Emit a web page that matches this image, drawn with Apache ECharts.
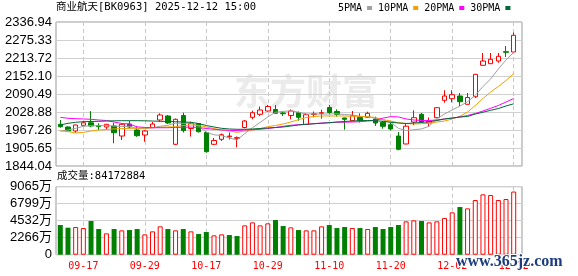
<!DOCTYPE html>
<html><head><meta charset="utf-8">
<script src="https://cdn.jsdelivr.net/npm/echarts@6/dist/echarts.min.js"></script>
<style>html,body{margin:0;padding:0;background:#fff}#c{width:578px;height:276px}</style>
</head><body><div id="c"></div>
<script>
const chartTitle = '商业航天[BK0963] 2025-12-12 15:00';
const volTitle = '成交量:84172884';
const dates = ['09-12','09-15','09-16','09-17','09-18','09-19','09-22','09-23','09-24','09-25','09-26','09-29','09-30','10-09','10-10','10-13','10-14','10-15','10-16','10-17','10-20','10-21','10-22','10-23','10-24','10-27','10-28','10-29','10-30','10-31','11-03','11-04','11-05','11-06','11-07','11-10','11-11','11-12','11-13','11-14','11-17','11-18','11-19','11-20','11-21','11-24','11-25','11-26','11-27','11-28','12-01','12-02','12-03','12-04','12-05','12-08','12-09','12-10','12-11','12-12'];
const xTickLabels = ['09-17','09-29','10-17','10-29','11-10','11-20','12-02','12-12'];
const opens  = [1986.8,1977.5,1964,1983.4,1992,1982,1977.5,1981,1946.7,1987.8,1967.3,1950.2,1975.8,2001.5,2015.2,1918.3,2016.9,1972.4,1989.5,1958.7,1918.3,1935.4,1944.3,1938.9,1975.8,2010.7,2021,2032.3,2037.4,2025.5,2016.9,2027.2,1986.1,2020.3,2023.7,2044.3,2030.6,2008.4,1999.1,2010.1,2010.7,2004.9,1993.6,1985.4,1946.7,1919.4,1994.6,2021,1991.2,2009.4,2068.9,2074.4,2083.6,2055.2,2081.2,2188.7,2194.2,2203.4,2235.3,2234.3];
const closes = [1978.6,1964,1984.4,1992,1981,1978.7,1986.7,1958,1986.7,1977.5,1947.7,1964,1987.8,2018.6,1991.2,2003.9,1965.6,1989.5,1961.4,1893,1931.3,1951.2,1946.5,1941,1998.1,2026.5,2035.7,2047.7,2024.4,2023.1,2032.3,2010.7,2019.6,2022.7,2026.5,2027.2,2021,2003.9,2016.2,2000.5,2024.4,1991.2,1979.9,1970.7,1901.2,1980.3,2009.4,1994.6,1996.4,2043.6,2083.6,2088.1,2064.1,2078.5,2157.9,2203.4,2209.3,2219.5,2233.2,2291.4];
const lows   = [1975,1961,1958,1980,1977,1967,1969.7,1921.7,1933,1973,1944,1927,1974,1995.7,1987.8,1916,1958.7,1945,1958.7,1889.6,1916,1929.6,1934.7,1908,1973,2003.9,2015.2,2030.6,2023.7,2015.2,2003.9,1999.1,1984.4,2010.7,2006,2022,2012.8,1968.4,1998.1,1993,2010.1,1981,1971.7,1965.6,1897.8,1918.3,1983.4,1991.2,1979.2,2008.4,2060.7,2062,2049.4,2054.5,2076.8,2188,2193.2,2197.6,2217.1,2234.3];
const highs  = [2001.5,1980,1986,1998,2032,1990,1988,1992,1990,1999,1981,1967,1994.6,2024.4,2018.6,2006.6,2026.5,1995.7,1991,1961.4,1939.9,1955.3,1958.7,1945,2001.5,2033.3,2047.7,2052.8,2052.8,2032.3,2038,2030.6,2024.4,2030.6,2036.7,2052.8,2038,2009.4,2032.3,2024.4,2029.9,2012.8,1998,1994.6,1960.4,1989.5,2034.7,2025.5,2010.1,2046,2103.2,2103.2,2093.9,2093.9,2159,2230.8,2230.8,2230.8,2254.8,2301];
const ma5  = [1964,1967,1973,1980,1982,1982,1982,1981,1979,1980,1973,1972,1975,1980,1983,1991,1990,1991,1980,1960,1951,1948,1940,1933,1955,1975,1993,2012,2028,2031,2033,2028,2022,2022,2022,2022,2023,2020,2019,2014,2013,2007,2002,1993,1973,1965,1968,1971,1980,2006,2022,2036,2049,2064,2086,2116,2142,2176,2207,2233];
const ma10 = [1964,1962,1957,1959,1964,1967,1969,1971,1972,1973,1973,1974,1975,1976.5,1977.5,1978.6,1982.7,1984.4,1983,1978,1972,1967.3,1964,1959.4,1964,1967,1971.7,1978.6,1982.7,1988,1994.6,2002.5,2010,2013.5,2015.2,2015.2,2015.2,2015.2,2014,2013.5,2012.8,2010,2003,1998,1992.3,1989.5,1987.8,1989,1990.2,1994.6,1998,2005,2014,2028.9,2051,2075,2097.3,2116,2136.7,2160];
const ma20 = [2010.7,2007.3,2006,2005,2004,2001.5,1999.8,1994.6,1989.5,1987.8,1978,1976,1975,1975,1975,1976,1976.5,1977,1975.8,1972.4,1969.7,1967.3,1966.2,1965.6,1967.3,1968.3,1969.7,1972.4,1975.8,1979.9,1983.4,1985.4,1986.7,1988.8,1991.2,1992.3,1993.6,1994,1994.6,1995.7,1998,2000.4,2008,2013,2012,2005,2001.5,1999.8,1999.8,2001.5,2005,2008.4,2011.8,2017,2023.7,2032.3,2041.6,2051.1,2063,2075];
const ma30 = [1984.4,1990.2,1993.6,1995.7,1996.4,1997,1998,1998.7,1999.1,1999.1,1999.1,1998.7,1998,1997,1996.4,1995.7,1994.6,1993.6,1989.5,1982.7,1977.5,1973,1970.7,1969.7,1969.7,1970.7,1972.4,1974.1,1975.8,1977.5,1981,1984.4,1986.7,1988.8,1990.2,1992.3,1994.6,1996.4,1998,1999.1,1999.8,1999.1,1997,1993.6,1991.2,1989.5,1991.2,1993,1995.7,1999.8,2005,2008,2011.8,2013.5,2022,2028,2034.7,2040.8,2049.4,2057];
const vols = [3955,3599,3688,3555,4488,3422,2844,3422,3244,3288,3422,2711,3110,3777,3422,3244,3422,3110,2755,3022,2577,2711,2622,2488,3910,4310,3910,4177,4621,3822,3644,3288,3244,3244,3777,3955,3555,3688,3555,3555,3422,3688,3422,3688,3955,4444,4577,4488,4310,4444,4888,5643,6354,6177,7288,8043,7954,7288,7421,8417.29];
const volUp = [0,0,1,1,0,0,1,0,1,0,0,1,1,1,0,1,0,1,0,0,1,1,0,0,1,1,1,1,0,0,1,0,1,1,1,0,0,0,1,0,1,0,0,0,0,1,1,0,1,1,1,1,0,1,1,1,1,1,1,1];
const priceTicks = ['1844.04','1905.65','1967.26','2028.88','2090.49','2152.10','2213.72','2275.33','2336.94'];
const volTicks = ['0','2266万','4532万','6799万','9065万'];

const priceMin = 1844.04, priceMax = 2336.94, priceStep = 61.6125;
const volMax = 9065, volStep = 2266.25;
const RED = '#ff0000', GREEN = '#008000';
const mono = '"DejaVu Sans Mono", "Noto Sans CJK SC", monospace';
const sans = '"Liberation Sans", Arial, "Noto Sans CJK SC", sans-serif';

const candleData = dates.map((d, i) => [opens[i], closes[i], lows[i], highs[i]]);
const volData = vols.map((v, i) => ({
  value: v,
  itemStyle: volUp[i] ? { color: '#fff', borderColor: RED, borderWidth: 1 } : { color: GREEN, borderColor: GREEN, borderWidth: 0 }
}));
const isTick = (idx, val) => xTickLabels.indexOf(val) >= 0 || xTickLabels.indexOf(dates[idx]) >= 0;
const dashLine = { show: true, interval: isTick, lineStyle: { color: '#c8c8c8', width: 1, type: [4, 3] } };
const gridBase = { containLabel: false, outerBoundsMode: 'none' };

const chart = echarts.init(document.getElementById('c'), null, { renderer: 'canvas' });
chart.setOption({
  animation: false,
  backgroundColor: '#fff',
  grid: [
    Object.assign({ left: 56, top: 22, width: 466, height: 144, show: true, borderColor: '#999', borderWidth: 1, backgroundColor: 'transparent' }, gridBase),
    Object.assign({ left: 60.3, top: 22, width: 453.4, height: 144, show: false }, gridBase),
    Object.assign({ left: 56, top: 186.7, width: 466, height: 68, show: true, borderColor: '#999', borderWidth: 1, backgroundColor: 'transparent' }, gridBase),
    Object.assign({ left: 60.3, top: 186.7, width: 453.4, height: 68, show: false }, gridBase)
  ],
  legend: {
    data: ['5PMA', '10PMA', '20PMA', '30PMA'],
    left: 338, top: 3, align: 'right', icon: 'rect', itemWidth: 5, itemHeight: 4, itemGap: 6,
    textStyle: { color: '#000', fontSize: 10, fontFamily: mono }, padding: 0
  },
  xAxis: [
    { gridIndex: 0, type: 'category', data: dates, show: false },
    { gridIndex: 1, type: 'category', data: dates, boundaryGap: false, axisLine: { show: false }, axisTick: { show: false }, axisLabel: { show: false }, splitLine: dashLine },
    { gridIndex: 2, type: 'category', data: dates, show: false },
    { gridIndex: 3, type: 'category', data: dates, boundaryGap: false, axisLine: { show: false }, axisTick: { show: false },
      axisLabel: { show: true, interval: isTick, color: RED, fontSize: 10, fontFamily: mono, margin: 7, hideOverlap: false }, splitLine: dashLine }
  ],
  yAxis: [
    { gridIndex: 0, type: 'value', min: priceMin, max: priceMax, interval: priceStep, axisLine: { show: false }, axisTick: { show: false },
      axisLabel: { color: '#000', fontSize: 13, fontFamily: sans, margin: 4, showMinLabel: true, showMaxLabel: true,
        formatter: v => priceTicks[Math.round((v - priceMin) / priceStep)] || '' },
      splitLine: { show: true, lineStyle: { color: '#d0d0d0', width: 1, type: 'solid' } } },
    { gridIndex: 1, type: 'value', min: priceMin, max: priceMax, show: false },
    { gridIndex: 2, type: 'value', min: 0, max: volMax, interval: volStep, axisLine: { show: false }, axisTick: { show: false },
      axisLabel: { color: '#000', fontSize: 13, fontFamily: sans, margin: 4, showMinLabel: true, showMaxLabel: true,
        formatter: v => volTicks[Math.round(v / volStep)] || '' },
      splitLine: { show: true, lineStyle: { color: '#d0d0d0', width: 1, type: 'solid' } } },
    { gridIndex: 3, type: 'value', min: 0, max: volMax, show: false }
  ],
  series: [
    { type: 'candlestick', name: 'K', xAxisIndex: 1, yAxisIndex: 1, data: candleData, barWidth: 5, clip: false, z: 3,
      itemStyle: { color: '#fff', color0: GREEN, borderColor: RED, borderColor0: GREEN, borderWidth: 1 } },
    { type: 'line', name: '5PMA', xAxisIndex: 1, yAxisIndex: 1, data: ma5, symbol: 'none', showSymbol: false, clip: false, z: 4,
      color: '#a0a0a0', lineStyle: { color: '#a0a0a0', width: 1 } },
    { type: 'line', name: '10PMA', xAxisIndex: 1, yAxisIndex: 1, data: ma10, symbol: 'none', showSymbol: false, clip: false, z: 4,
      color: '#f0a000', lineStyle: { color: '#f0a000', width: 1 } },
    { type: 'line', name: '20PMA', xAxisIndex: 1, yAxisIndex: 1, data: ma20, symbol: 'none', showSymbol: false, clip: false, z: 4,
      color: '#ff00ff', lineStyle: { color: '#ff00ff', width: 1 } },
    { type: 'line', name: '30PMA', xAxisIndex: 1, yAxisIndex: 1, data: ma30, symbol: 'none', showSymbol: false, clip: false, z: 4,
      color: '#006a35', lineStyle: { color: '#006a35', width: 1 } },
    { type: 'bar', name: 'VOL', xAxisIndex: 3, yAxisIndex: 3, data: volData, barWidth: 5, clip: false, z: 3 }
  ],
  graphic: [
    { type: 'text', left: 234, top: 73, z: -1, silent: true, style: { text: '东方财富', fontSize: 36, fontWeight: 'bold', fontFamily: '"Noto Sans CJK SC"', fill: '#ebebeb' } },
    { type: 'text', left: 56, top: 2, style: { text: chartTitle, fontSize: 10.5, fontFamily: mono, fill: '#000' } },
    { type: 'text', left: 57, top: 171, style: { text: volTitle, fontSize: 10.5, fontFamily: mono, fill: '#000' } },
    { type: 'text', left: 455, top: 253, z: 100, silent: true, style: { text: 'www.365jz.com', fontSize: 16, fontWeight: 'bold', fontFamily: '"Liberation Serif", serif', fill: '#1d3c7c', stroke: '#fff', lineWidth: 2 } }
  ]
});
</script></body></html>
